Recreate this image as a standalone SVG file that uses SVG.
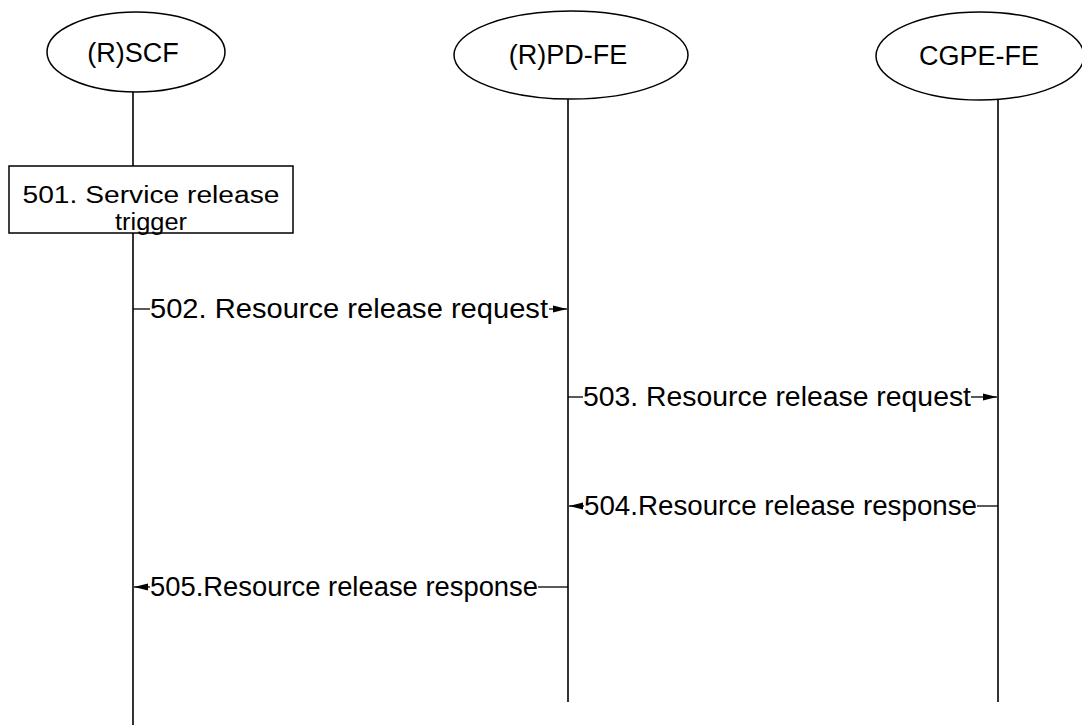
<svg xmlns="http://www.w3.org/2000/svg" width="1082" height="725" viewBox="0 0 1082 725">
  <style>
    .shape { fill: #ffffff; stroke: #000000; stroke-width: 1.5; }
    .life { stroke: #000000; stroke-width: 1.6; fill: none; }
    .msg { stroke: #000000; stroke-width: 1.3; fill: none; }
    .lbl { font-family: "Liberation Sans", Arial, sans-serif; font-size: 27px; fill: #000000; }
    .box { font-size: 23px; }
    .mid { text-anchor: middle; }
  </style>
  <defs>
    <marker id="arrow" viewBox="0 0 14 10" refX="14" refY="5" markerWidth="14" markerHeight="10" markerUnits="userSpaceOnUse" orient="auto">
      <path d="M0,1.5 L14,5 L0,8.5 Z" fill="#000000"/>
    </marker>
  </defs>

  <rect width="1082" height="725" fill="#ffffff"/>

  <!-- lifelines -->
  <g id="lifelines">
    <line class="life" x1="133" y1="92" x2="133" y2="725"/>
    <line class="life" x1="568" y1="99" x2="568" y2="702"/>
    <line class="life" x1="998" y1="100" x2="998" y2="702"/>
  </g>

  <g id="node-rscf">
    <ellipse class="shape" cx="136" cy="52" rx="89" ry="40"/>
    <text class="lbl mid" x="133" y="62">(R)SCF</text>
  </g>

  <g id="node-rpdfe">
    <ellipse class="shape" cx="571" cy="55" rx="117" ry="44"/>
    <text class="lbl mid" x="568" y="64">(R)PD-FE</text>
  </g>

  <g id="node-cgpefe">
    <ellipse class="shape" cx="980" cy="56" rx="104" ry="44"/>
    <text class="lbl mid" x="979" y="65">CGPE-FE</text>
  </g>

  <g id="node-501">
    <rect class="shape" x="9" y="166" width="284" height="67"/>
    <text class="lbl box mid" x="151" y="203" textLength="257" lengthAdjust="spacingAndGlyphs">501. Service release</text>
    <text class="lbl box mid" x="151" y="230" textLength="72" lengthAdjust="spacingAndGlyphs">trigger</text>
  </g>

  <!-- messages -->
  <g id="connectors">
    <line class="msg" x1="133" y1="309" x2="150" y2="309"/>
    <line class="msg" x1="549" y1="309" x2="567" y2="309" marker-end="url(#arrow)"/>
    <text class="lbl" x="150" y="318" textLength="398" lengthAdjust="spacingAndGlyphs">502. Resource release request</text>

    <line class="msg" x1="568" y1="397" x2="583" y2="397"/>
    <line class="msg" x1="971" y1="397" x2="997" y2="397" marker-end="url(#arrow)"/>
    <text class="lbl" x="583" y="406" textLength="388" lengthAdjust="spacingAndGlyphs">503. Resource release request</text>

    <line class="msg" x1="584" y1="506" x2="569" y2="506" marker-end="url(#arrow)"/>
    <line class="msg" x1="977" y1="506" x2="998" y2="506"/>
    <text class="lbl" x="584" y="515" textLength="393" lengthAdjust="spacingAndGlyphs">504.Resource release response</text>

    <line class="msg" x1="150" y1="587" x2="134" y2="587" marker-end="url(#arrow)"/>
    <line class="msg" x1="538" y1="587" x2="568" y2="587"/>
    <text class="lbl" x="150" y="596" textLength="388" lengthAdjust="spacingAndGlyphs">505.Resource release response</text>
  </g>
</svg>
